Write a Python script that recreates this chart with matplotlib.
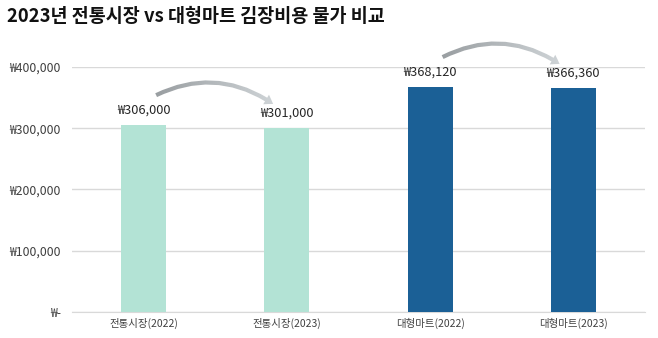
import matplotlib
matplotlib.use("Agg")
import numpy as np
import matplotlib.pyplot as plt
from matplotlib.patches import FancyArrowPatch
from matplotlib.colors import LinearSegmentedColormap
from matplotlib.ticker import FuncFormatter

plt.rcParams['font.family'] = ['Noto Sans CJK KR', 'DejaVu Sans']

categories = ["전통시장(2022)", "전통시장(2023)", "대형마트(2022)", "대형마트(2023)"]
costs = [306000, 301000, 368120, 366360]
bar_colors = ["#b3e3d5", "#b3e3d5", "#1b6096", "#1b6096"]
yticks = [0, 100000, 200000, 300000, 400000]

fig = plt.figure(figsize=(6.58, 3.38), dpi=100)
ax = fig.add_axes([0.1094, 0.0769, 0.8708, 0.7249])

x = list(range(len(categories)))
ax.bar(x, costs, width=0.315, color=bar_colors, zorder=3)

ax.set_yticks(yticks)
ax.yaxis.set_major_formatter(FuncFormatter(lambda v, p: "₩-" if v == 0 else f"₩{v:,.0f}"))
ax.set_xticks(x)
ax.set_xticklabels(categories)
ax.tick_params(axis='y', length=0, pad=8, labelsize=8.8, labelcolor="#404040")
ax.tick_params(axis='x', length=0, pad=4, labelsize=7.5, labelcolor="#404040")
ax.grid(axis='y', color="#d9d9d9", linewidth=1, zorder=0)
for s in ["top", "right", "left"]:
    ax.spines[s].set_visible(False)
ax.spines["bottom"].set_color("#d9d9d9")

for xi, v in zip(x, costs):
    ax.annotate(f"₩{v:,.0f}", (xi, v), xytext=(0, 6), textcoords="offset points",
                ha="center", va="bottom", fontsize=9.2, color="#262626",
                annotation_clip=False)

# curved arrows (grey gradient) showing the change from 2022 to 2023
grad_cmap = LinearSegmentedColormap.from_list("arrow_grey", ["#979c9f", "#d3d8db"])
grad = np.linspace(0, 1, 256).reshape(1, -1)
for i in (0, 2):
    start = (i + 0.07, costs[i] + 46000)
    end = (i + 0.92, costs[i + 1] + 36000)
    arr = FancyArrowPatch(start, end, connectionstyle="arc3,rad=-0.3",
                          arrowstyle="simple,head_length=6,head_width=8,tail_width=3",
                          facecolor="none", edgecolor="none", clip_on=False, zorder=4)
    ax.add_patch(arr)
    img = ax.imshow(grad, cmap=grad_cmap, aspect="auto", zorder=4,
                    extent=(i + 0.05, i + 0.97, costs[i] + 20000, costs[i] + 130000))
    img.set_clip_box(fig.bbox)
    img.set_clip_path(arr)

ax.set_xlim(-0.5, len(categories) - 0.5)
ax.set_ylim(0, 400000)

fig.text(0.011, 0.95, "2023년 전통시장 vs 대형마트 김장비용 물가 비교",
         fontsize=13.3, fontweight="bold", ha="left", va="center", color="#111111")

fig.savefig("out.png", dpi=100)
